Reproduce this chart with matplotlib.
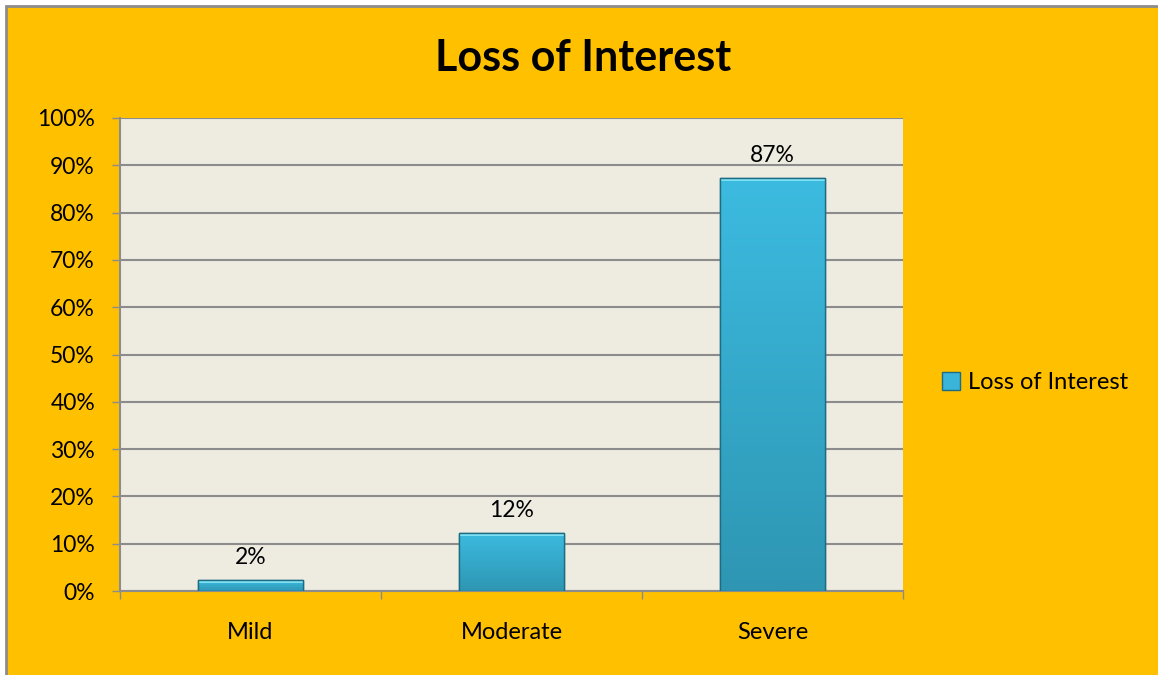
import numpy as np
import matplotlib.pyplot as plt
from matplotlib.patches import Rectangle
from matplotlib.colors import LinearSegmentedColormap

categories = ["Mild", "Moderate", "Severe"]
values = [0.023, 0.123, 0.873]
labels = ["2%", "12%", "87%"]
yticks = [0, 0.1, 0.2, 0.3, 0.4, 0.5, 0.6, 0.7, 0.8, 0.9, 1.0]
series_name = "Loss of Interest"

plt.rcParams['font.family'] = ['Lato', 'DejaVu Sans']

fig = plt.figure(figsize=(11.58, 6.75), dpi=100)
fig.patch.set_facecolor('white')
# orange chart area with grey border
fig.patches.append(Rectangle((6 / 1158, -0.01), 1.02, 1 - 6 / 675 + 0.01,
                             transform=fig.transFigure, facecolor='#FFC000',
                             edgecolor='#8C8C8C', linewidth=2, zorder=-10))

ax = fig.add_axes([120 / 1158, 1 - 591 / 675, 783 / 1158, 473 / 675])
ax.set_facecolor('#EEEBE1')
x = np.arange(len(categories))
bars = ax.bar(x, values, width=0.4, color='#3AB4D8', edgecolor='#1D6C82',
              linewidth=1.0, zorder=3)

# vertical gradient + bevel look on each bar
cmap = LinearSegmentedColormap.from_list('b', ['#2E96B3', '#3CBBE0'])
grad = np.linspace(0, 1, 256).reshape(-1, 1)
for b in bars:
    x0, w, h = b.get_x(), b.get_width(), b.get_height()
    im = ax.imshow(grad, cmap=cmap, aspect='auto', origin='lower',
                   extent=[x0, x0 + w, 0, h], zorder=3.5)
    im.set_clip_path(b)
    ax.add_patch(Rectangle((x0, h - min(0.006, h * 0.3)), w, min(0.006, h * 0.3),
                           facecolor='#7FE0F5', edgecolor='none', zorder=4))
    ax.add_patch(Rectangle((x0, 0), w, h, facecolor='none',
                           edgecolor='#1D6C82', linewidth=1.0, zorder=5))

for xi, v, lab in zip(x, values, labels):
    ax.text(xi, v + 0.025, lab, ha='center', va='bottom', fontsize=16.5, color='black')

ax.set_xlim(-0.5, 2.5)
ax.set_ylim(0, 1)
ax.set_yticks(yticks)
ax.set_yticklabels([f"{int(round(t * 100))}%" for t in yticks], fontsize=16.5)
ax.set_xticks(x)
ax.set_xticklabels(categories, fontsize=17)
ax.set_xticks([-0.5, 0.5, 1.5, 2.5], minor=True)
ax.tick_params(axis='x', which='major', length=0, pad=22)
ax.tick_params(axis='x', which='minor', length=6, color='#8C8C8C', width=1)
ax.tick_params(axis='y', length=6, color='#8C8C8C', width=1, pad=12)
ax.yaxis.grid(True, color='#8C8C8C', linewidth=1.5, zorder=1)
ax.set_axisbelow(True)
for s in ['top', 'right']:
    ax.spines[s].set_visible(False)
for s in ['left', 'bottom']:
    ax.spines[s].set_color('#8C8C8C')
    ax.spines[s].set_linewidth(1.5)

fig.text(583 / 1158, 1 - 58 / 675, "Loss of Interest", ha='center', va='center',
         fontsize=31, fontweight='bold')

leg = ax.legend([Rectangle((0, 0), 1, 1, facecolor='#3AB4D8', edgecolor='#1D6C82')],
                [series_name], loc='center left', bbox_to_anchor=(1.035, 0.44),
                frameon=False, fontsize=17, handlelength=0.75, handleheight=0.75,
                handletextpad=0.35, borderpad=0)

fig.savefig('out.png', dpi=100, facecolor=fig.get_facecolor())
